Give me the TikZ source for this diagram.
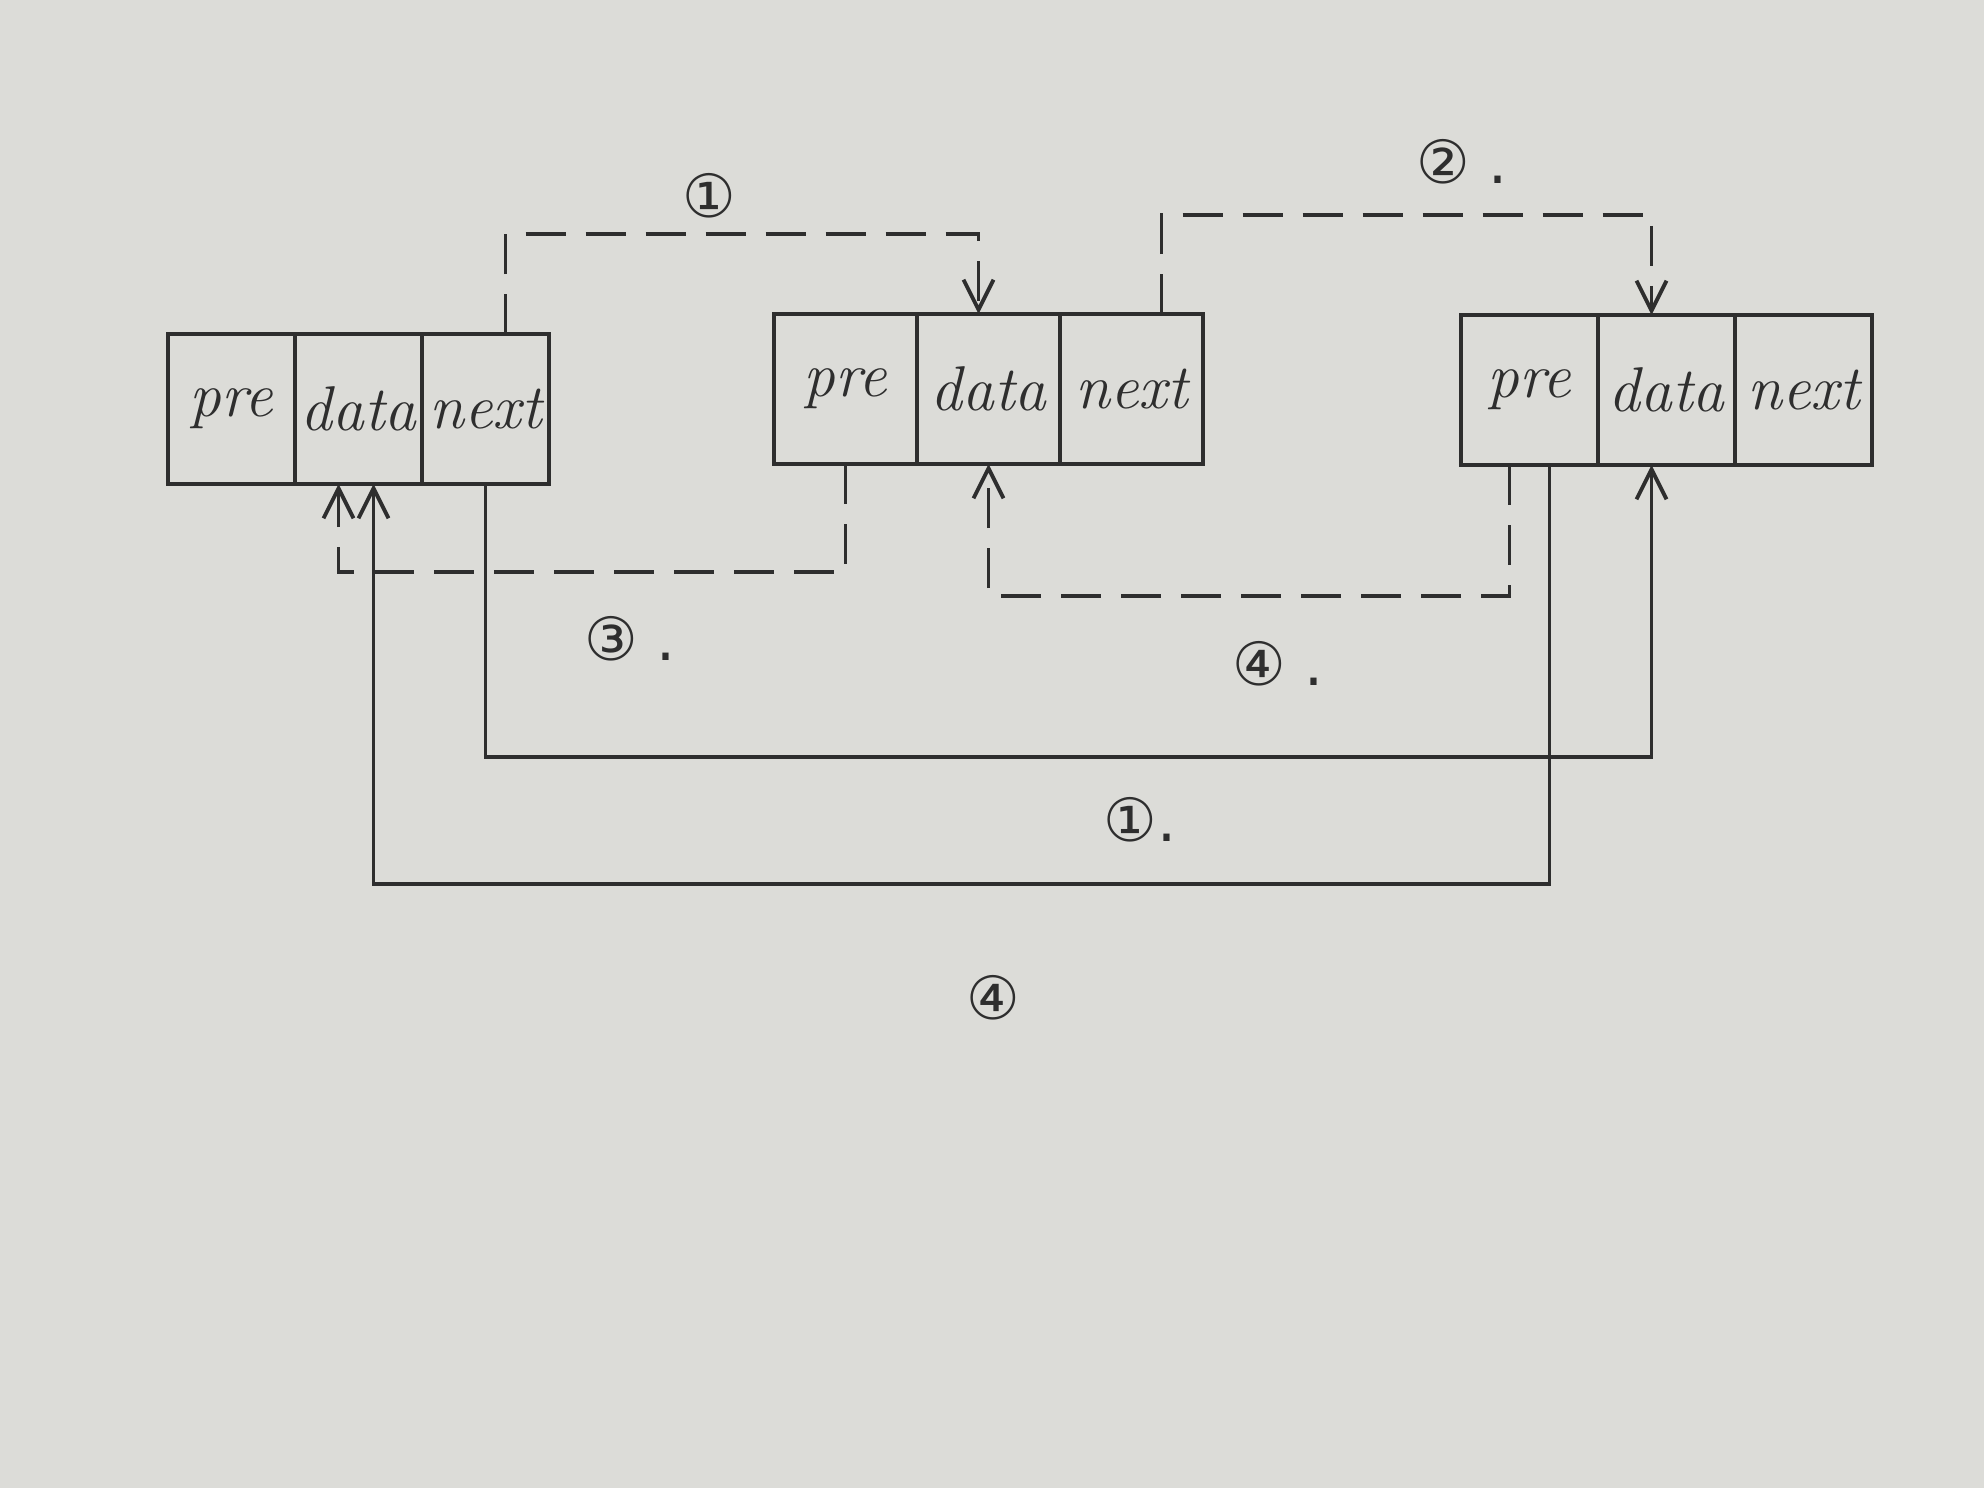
\documentclass[tikz,border=0pt]{standalone}
\usepackage{fontspec}
\newfontfamily\circfont{DejaVu Sans}
\usetikzlibrary{arrows.meta,positioning}
\definecolor{paper}{HTML}{DCDCD8}
\definecolor{ink}{HTML}{2E2E2E}
\tikzset{
cell/.style={draw=ink,line width=1.1pt,minimum width=1.37cm,minimum height=1.5cm,inner sep=1pt,outer sep=0pt,font=\fontsize{18}{22}\selectfont\itshape,text=ink},
solidlink/.style={draw=ink,line width=1.1pt,-{Straight Barb[length=3mm,width=3mm]}},
dashlink/.style={solidlink,dash pattern=on 4mm off 2mm},
tag/.style={font=\circfont\fontsize{17}{20}\selectfont,text=ink}
}

\begin{document}
\begin{tikzpicture}
\fill[paper](0,0)rectangle(19.84,14.88);
\useasboundingbox(0,0)rectangle(19.84,14.88);
% first node
\node[cell,minimum width=1.27cm](pre1)at(2.315,10.79){pre};
\node[cell,minimum width=1.27cm,right=0pt of pre1](data1){data};
\node[cell,minimum width=1.27cm,right=0pt of data1](next1){next};
% second node
\node[cell,minimum width=1.43cm](pre2)at(8.455,10.99){pre};
\node[cell,minimum width=1.43cm,right=0pt of pre2](data2){data};
\node[cell,minimum width=1.43cm,right=0pt of data2](next2){next};
% third node
\node[cell](pre3)at(15.295,10.98){pre};
\node[cell,right=0pt of pre3](data3){data};
\node[cell,right=0pt of data3](next3){next};
% dashed links
\draw[dashlink]([xshift=2mm]next1.north)--++(0,1.0)-|([xshift=-1mm]data2.north);
\draw[dashlink]([xshift=3mm]next2.north)--++(0,0.99)-|([xshift=-1.5mm]data3.north);
\draw[dashlink](pre2.south)--++(0,-1.08)-|([xshift=-2mm]data1.south);
\draw[dashlink]([xshift=-2mm]pre3.south)--++(0,-1.31)-|(data2.south);
% solid links
\draw[solidlink](next1.south)--++(0,-2.73)-|([xshift=-1.5mm]data3.south);
\draw[solidlink]([xshift=2mm]pre3.south)--++(0,-4.19)-|([xshift=1.5mm]data1.south);
% step numbers
\node[tag](n1)at(7.09,12.92){①};
\node[tag](n2)at(14.62,13.26){② .};
\node[tag](n3)at(6.3,8.49){③ .};
\node[tag](n4)at(12.78,8.24){④ .};
\node[tag](n5)at(11.4,6.68){①.};
\node[tag](n6)at(9.93,4.90){④};
\end{tikzpicture}
\end{document}
